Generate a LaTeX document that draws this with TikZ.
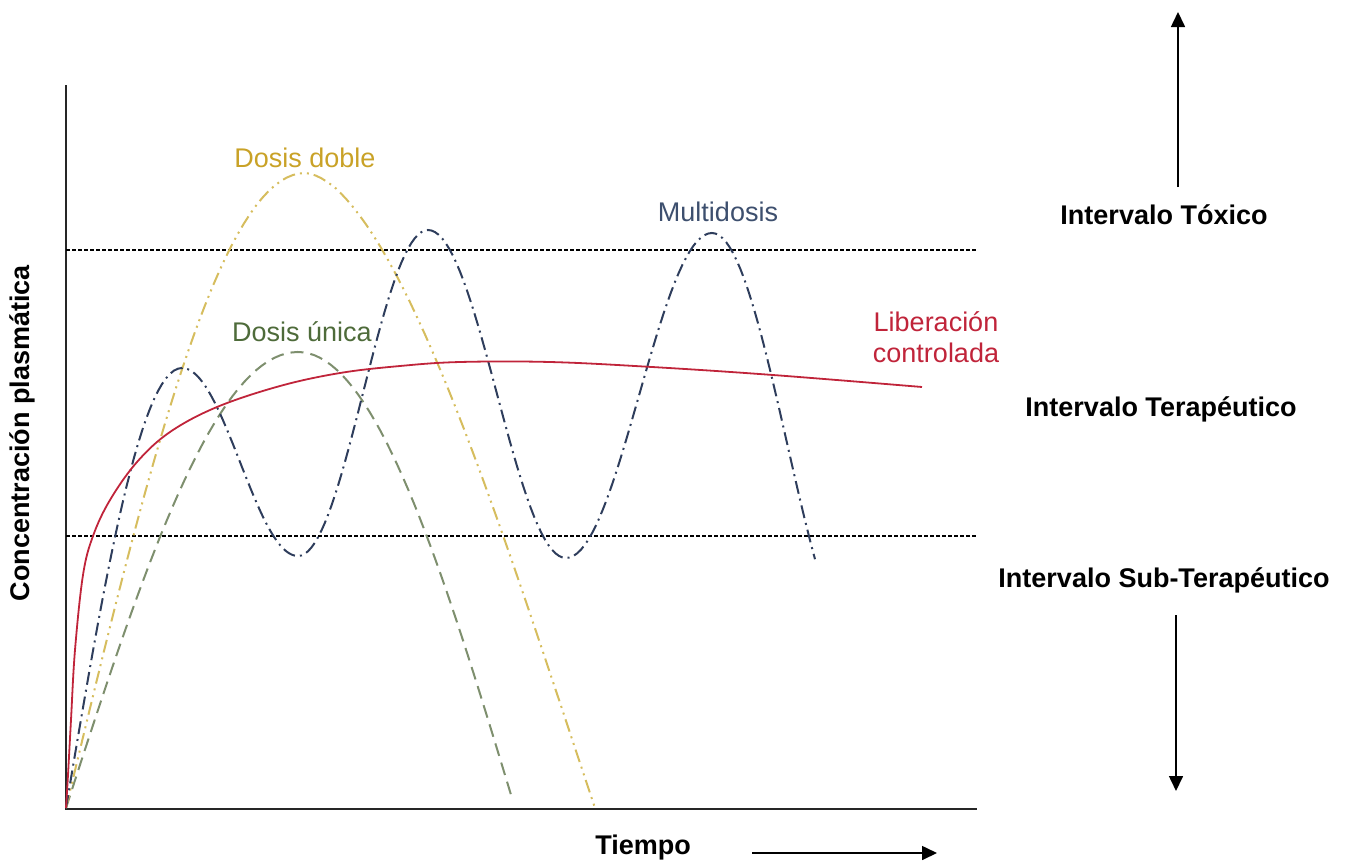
\documentclass[tikz,border=0pt]{standalone}
\usepackage{fontspec}
\setmainfont{Liberation Sans}
\usetikzlibrary{arrows.meta}
\definecolor{doblec}{HTML}{D6BD5E}
\definecolor{doblet}{HTML}{C9A227}
\definecolor{unicac}{HTML}{7E8F6E}
\definecolor{unicat}{HTML}{4E6B3A}
\definecolor{multic}{HTML}{2E3D5C}
\definecolor{multit}{HTML}{3D4F6E}
\definecolor{libc}{HTML}{C0243A}
\begin{document}
\begin{tikzpicture}[x=1pt,y=-1pt,
  lbl/.style={font=\fontsize{27}{31}\selectfont, inner sep=0pt},
  blbl/.style={lbl, font=\fontsize{27}{31}\selectfont\bfseries},
  axisline/.style={line width=2pt, draw=black!85},
  limitline/.style={line width=1.3pt, dash pattern=on 4pt off 2pt, draw=black},
  curve/.style={line width=2pt},
  doble/.style={curve, draw=doblec, dash pattern=on 13pt off 5pt on 2pt off 5pt on 2pt off 5pt},
  unica/.style={curve, draw=unicac, dash pattern=on 13pt off 7pt},
  multi/.style={curve, draw=multic, dash pattern=on 13pt off 5pt on 2pt off 5pt},
  lib/.style={curve, draw=libc, line width=1.8pt},
  arr/.style={line width=1.6pt, -{Triangle[length=15pt,width=14pt]}}
]
\useasboundingbox (0,0) rectangle (1351,862);

% axes
\coordinate (o) at (66,809);
\coordinate (ytop) at (66,85);
\coordinate (xend) at (977,809);
\draw[axisline] (ytop) -- (o) -- (xend);

% limit lines
\coordinate (tl) at (66,250);
\coordinate (tr) at (977,250);
\coordinate (sl) at (66,536);
\coordinate (sr) at (977,536);
\draw[limitline] (tl) -- (tr);
\draw[limitline] (sl) -- (sr);

% Dosis unica
\draw[unica] plot[domain=0:90,samples=40] ({66+\x/90*232},{808-456*sin(\x)})
  -- plot[domain=0:89,samples=40] ({298+\x/90*217},{352+456*(1-cos(\x))});

% Dosis doble
\draw[doble] plot[domain=0:90,samples=40] ({66+\x/90*239},{808-635*sin(\x)})
  -- plot[domain=0.5:90,samples=40] ({305+290*pow(\x/90,1.15)},{173+635*(1-cos(\x))});

% Multidosis
\draw[multi] plot[domain=0:90,samples=30] ({66+\x/90*116},{808-440*sin(\x)})
  -- plot[domain=0:180,samples=40] ({182+\x/180*116},{368+188*(1-cos(\x))/2})
  -- plot[domain=0:180,samples=40] ({298+\x/180*130},{556-326*(1-cos(\x))/2})
  -- plot[domain=0:180,samples=40] ({428+\x/180*138},{230+328*(1-cos(\x))/2})
  -- plot[domain=0:180,samples=40] ({566+\x/180*146},{558-325*(1-cos(\x))/2})
  -- plot[domain=0:123.6,samples=30] ({712+\x/180*150},{233+210*(1-cos(\x))});

% Liberacion controlada
\draw[lib] plot[smooth, tension=0.6] coordinates {(66,808) (68,775) (71,720) (75,650) (83,575) (93,536) (110,500) (137,462) (170,432) (217,407) (280,386) (340,373) (400,366) (460,362) (550,362) (652,367) (773,375) (922,387)};

% curve labels
\node[lbl, text=doblet] (ldoble) at (305,158) {Dosis doble};
\node[lbl, text=unicat] (lunica) at (302,332) {Dosis única};
\node[lbl, text=multit] (lmulti) at (718,212) {Multidosis};
\node[lbl, text=libc, align=center] (llib) at (936,337) {Liberación\\controlada};

% axis labels
\node[blbl, rotate=90] (ylab) at (22,433) {Concentración plasmática};
\node[blbl] (xlab) at (643,848) {Tiempo};
\coordinate (ta0) at (752,853);
\coordinate (ta1) at (937,853);
\draw[arr] (ta0) -- (ta1);

% interval labels
\node[blbl] (itox) at (1164,215) {Intervalo Tóxico};
\node[blbl] (iter) at (1161,409) {Intervalo Terapéutico};
\node[blbl] (isub) at (1164,580) {Intervalo Sub-Terapéutico};
\coordinate (up0) at (1178,187);
\coordinate (up1) at (1178,12);
\coordinate (dn0) at (1176,615);
\coordinate (dn1) at (1176,791);
\draw[arr] (up0) -- (up1);
\draw[arr] (dn0) -- (dn1);
\end{tikzpicture}
\end{document}
